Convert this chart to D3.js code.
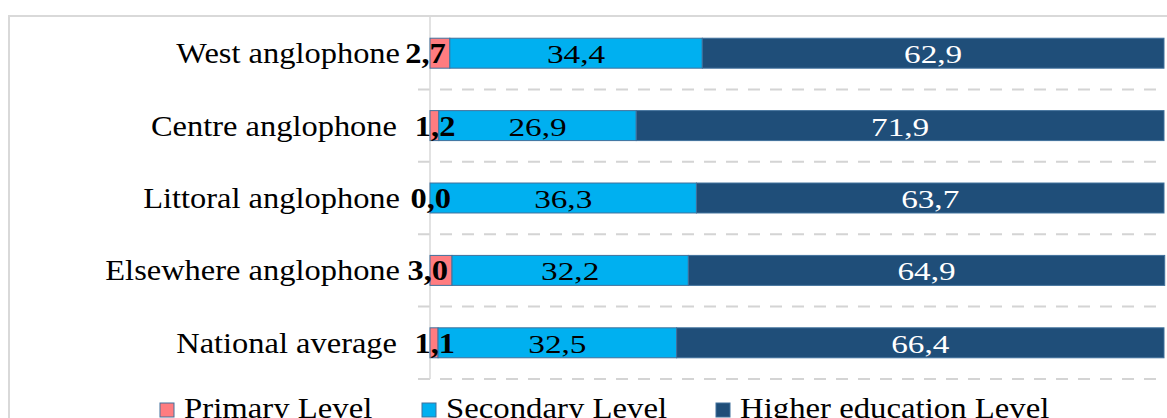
<!DOCTYPE html>
<html>
<head>
<meta charset="utf-8">
<script src="https://cdn.jsdelivr.net/npm/d3@7"></script>
<style>
  body { margin: 0; background: #fff; }
  text { font-family: "Times New Roman", "Liberation Serif", serif; }
</style>
</head>
<body>
<div id="chart"></div>
<script>
// --- data ---
const categories = ["West anglophone", "Centre anglophone", "Littoral anglophone", "Elsewhere anglophone", "National average"];
const primary = [2.7, 1.2, 0.0, 3.0, 1.1];
const secondary = [34.4, 26.9, 36.3, 32.2, 32.5];
const higher = [62.9, 71.9, 63.7, 64.9, 66.4];
const seriesNames = ["Primary Level", "Secondary Level", "Higher education Level"];
const seriesColors = ["#ff7c80", "#00b0f0", "#1f4e79"];
const labelColors = ["#000", "#000", "#fff"];

const width = 1167, height = 418;
const margin = { top: 17, right: 3, bottom: 39, left: 430 };

const svg = d3.select("#chart").append("svg")
    .attr("width", width)
    .attr("height", height);

// frame (only top/left visible)
svg.append("rect")
    .attr("x", 9).attr("y", 16)
    .attr("width", 1200).attr("height", 500)
    .attr("fill", "none")
    .attr("stroke", "#d9d9d9")
    .attr("stroke-width", 2);

const x = d3.scaleLinear()
    .domain([0, 100])
    .range([margin.left, width - margin.right]);

const y = d3.scaleBand()
    .domain(categories)
    .range([margin.top, height - margin.bottom])
    .paddingInner(0.586)
    .paddingOuter(0.293);

const step = y.step();

// dashed separators between categories (with small tick on the left)
svg.append("g")
    .selectAll("line")
    .data(categories)
    .join("line")
    .attr("x1", x(0) - 12)
    .attr("x2", x(100))
    .attr("y1", d => y(d) - y.paddingOuter() * step + step)
    .attr("y2", d => y(d) - y.paddingOuter() * step + step)
    .attr("stroke", "#d4d4d4")
    .attr("stroke-width", 2)
    .attr("stroke-dasharray", "12,10");

// vertical axis line
svg.append("line")
    .attr("x1", x(0)).attr("x2", x(0))
    .attr("y1", margin.top - 1)
    .attr("y2", height - margin.bottom)
    .attr("stroke", "#d9d9d9")
    .attr("stroke-width", 1.5);

// stacked data
const rows = categories.map((c, i) => ({ cat: c, values: [primary[i], secondary[i], higher[i]] }));
const segs = [];
rows.forEach(r => {
    let acc = 0;
    r.values.forEach((v, k) => {
        segs.push({ cat: r.cat, k: k, v: v, x0: acc, x1: acc + v });
        acc += v;
    });
});

svg.append("g")
    .selectAll("rect")
    .data(segs)
    .join("rect")
    .attr("x", d => x(d.x0))
    .attr("y", d => y(d.cat))
    .attr("width", d => x(d.x1) - x(d.x0))
    .attr("height", y.bandwidth())
    .attr("fill", d => seriesColors[d.k])
    .attr("stroke", "#41719c")
    .attr("stroke-width", 1);

const fmt = v => v.toFixed(1).replace(".", ",");

// value labels for secondary / higher
svg.append("g")
    .selectAll("text")
    .data(segs.filter(d => d.k > 0))
    .join("text")
    .attr("transform", d => `translate(${x((d.x0 + d.x1) / 2)},${y(d.cat) + y.bandwidth() / 2 + 10}) scale(1.33,1)`)
    .attr("text-anchor", "middle")
    .attr("font-size", 25)
    .attr("fill", d => labelColors[d.k])
    .text(d => fmt(d.v));

// bold primary labels
svg.append("g")
    .selectAll("text")
    .data(segs.filter(d => d.k === 0))
    .join("text")
    .attr("transform", d => {
        const px = d.v >= 2 ? x(d.x1) - 4 : x(d.v / 2) + 21;
        return `translate(${px},${y(d.cat) + y.bandwidth() / 2 + 10}) scale(1.12,1)`;
    })
    .attr("text-anchor", "end")
    .attr("font-size", 29)
    .attr("font-weight", "bold")
    .attr("fill", "#000")
    .text(d => fmt(d.v));

// category labels
svg.append("g")
    .selectAll("text")
    .data(rows)
    .join("text")
    .attr("transform", (d, i) => {
        const pad = primary[i] >= 2 || primary[i] === 0 ? 30 : 33;
        return `translate(${x(0) - pad},${y(d.cat) + y.bandwidth() / 2 + 10}) scale(1.12,1)`;
    })
    .attr("text-anchor", "end")
    .attr("font-size", 29)
    .attr("fill", "#000")
    .text(d => d.cat);

// legend
const legendX = [160, 422, 716];
const legend = svg.append("g");
seriesNames.forEach((name, i) => {
    legend.append("rect")
        .attr("x", legendX[i]).attr("y", 403)
        .attr("width", 14).attr("height", 14)
        .attr("fill", seriesColors[i])
        .attr("stroke", "#41719c")
        .attr("stroke-width", 1);
    legend.append("text")
        .attr("transform", `translate(${legendX[i] + 24},418) scale(1.13,1)`)
        .attr("font-size", 29)
        .attr("fill", "#000")
        .text(name);
});
</script>
</body>
</html>
